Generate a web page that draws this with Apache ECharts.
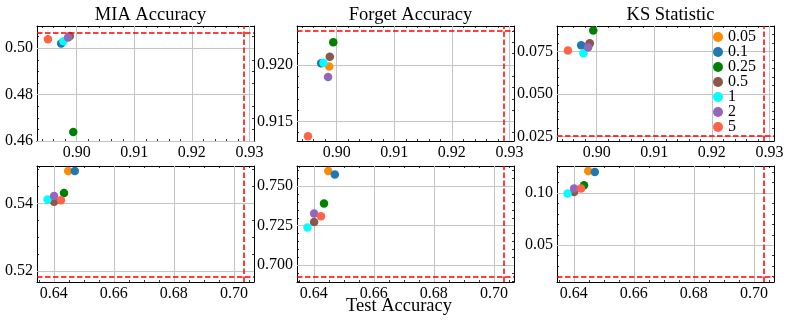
<!DOCTYPE html>
<html>
<head>
<meta charset="utf-8">
<script src="https://cdn.jsdelivr.net/npm/echarts@6/dist/echarts.min.js"></script>
<style>
html, body { margin: 0; background: #fff; }
#chart { width: 789px; height: 320px; }
</style>
</head>
<body>
<div id="chart"></div>
<script>
const sigmas = ['0.05', '0.1', '0.25', '0.5', '1', '2', '5'];
const colors = ['#ff8c00', '#1f77b4', '#008000', '#8c564b', '#00ffff', '#9467bd', '#ff6347'];

// top row
const topTestAcc = [0.8987, 0.8973, 0.8994, 0.8988, 0.8977, 0.8985, 0.8950];
const topMIA = [0.5050, 0.5021, 0.4639, 0.5053, 0.5030, 0.5046, 0.5039];
const topForget = [0.91985, 0.92015, 0.9220, 0.92073, 0.9202, 0.91892, 0.91368];
const topKS = [0.0795, 0.0788, 0.0874, 0.0799, 0.0741, 0.0774, 0.0756];

// bottom row
const bottomTestAcc = [0.6448, 0.6470, 0.6434, 0.6401, 0.6379, 0.6401, 0.6424];
const bottomMIA = [0.5496, 0.5496, 0.5431, 0.5405, 0.5412, 0.5422, 0.5410];
const bottomForget = [0.7597, 0.7574, 0.7391, 0.7274, 0.7239, 0.7327, 0.7310];
const bottomKS = [0.1210, 0.1201, 0.1074, 0.1010, 0.0994, 0.1042, 0.1042];

// reference (red dashed) lines
const topRefX = 0.9291;
const bottomRefX = 0.7034;
const refY = [0.5067, 0.9230, 0.0252, 0.5183, 0.6926, 0.0197];

// tick labels
const titles = ['MIA Accuracy', 'Forget Accuracy', 'KS Statistic'];
const topXTicks = [0.90, 0.91, 0.92, 0.93];
const bottomXTicks = [0.64, 0.66, 0.68, 0.70];
const yTicks = [
    [0.46, 0.48, 0.50],
    [0.915, 0.920],
    [0.025, 0.050, 0.075],
    [0.52, 0.54],
    [0.700, 0.725, 0.750],
    [0.05, 0.10]
];

const panels = [
    { x: topTestAcc, y: topMIA, xr: [0.8931, 0.9308], yr: [0.46, 0.5096], xt: topXTicks, xs: 0.002, xd: 2, ys: 0.005, yd: 2, rx: topRefX },
    { x: topTestAcc, y: topForget, xr: [0.8931, 0.9308], yr: [0.91327, 0.92344], xt: topXTicks, xs: 0.002, xd: 2, ys: 0.001, yd: 3, rx: topRefX },
    { x: topTestAcc, y: topKS, xr: [0.8931, 0.9308], yr: [0.0223, 0.0901], xt: topXTicks, xs: 0.002, xd: 2, ys: 0.005, yd: 3, rx: topRefX },
    { x: bottomTestAcc, y: bottomMIA, xr: [0.6344, 0.7067], yr: [0.5168, 0.5511], xt: bottomXTicks, xs: 0.005, xd: 2, ys: 0.005, yd: 2, rx: bottomRefX },
    { x: bottomTestAcc, y: bottomForget, xr: [0.6344, 0.7067], yr: [0.6894, 0.7628], xt: bottomXTicks, xs: 0.005, xd: 2, ys: 0.005, yd: 3, rx: bottomRefX },
    { x: bottomTestAcc, y: bottomKS, xr: [0.6344, 0.7067], yr: [0.0149, 0.1258], xt: bottomXTicks, xs: 0.005, xd: 2, ys: 0.01, yd: 2, rx: bottomRefX }
];

const FONT = 'Liberation Serif';
const gridLeft = [37, 297, 557];
const gridTop = [26, 166];

function steps(lo, hi, step) {
    const out = [];
    for (let k = Math.ceil(lo / step - 1e-6); k * step <= hi + 1e-9; k++) {
        out.push(+(k * step).toFixed(6));
    }
    return out;
}

const grids = [];
const xAxes = [];
const yAxes = [];
const series = [];
const titleList = [];

panels.forEach((p, i) => {
    const row = Math.floor(i / 3);
    const col = i % 3;
    const gh = row === 0 ? 115 : 116;
    grids.push({ left: gridLeft[col], top: gridTop[row], width: 217, height: gh, containLabel: false });
    if (row === 0) {
        titleList.push({
            text: titles[col], left: gridLeft[col] + 108.5, top: 1, textAlign: 'center',
            textStyle: { fontFamily: FONT, fontSize: 18.5, fontWeight: 'normal', color: '#000' }
        });
    }

    const xMinor = steps(p.xr[0], p.xr[1], p.xs);
    const yMinor = steps(p.yr[0], p.yr[1], p.ys);

    ['bottom', 'top', 'bottom', 'top'].forEach((pos, k) => {
        const major = k < 2;
        xAxes.push({
            type: 'value', gridIndex: i, position: pos, min: p.xr[0], max: p.xr[1],
            axisLine: { show: major, onZero: false, lineStyle: { color: '#000', width: 1 } },
            axisTick: { show: true, inside: true, length: major ? 4 : 2, customValues: major ? p.xt : xMinor,
                lineStyle: { color: '#000', width: 0.8 } },
            axisLabel: { show: k === 0, customValues: p.xt, margin: 4,
                formatter: v => v.toFixed(p.xd),
                fontFamily: FONT, fontSize: 16, color: '#000' },
            splitLine: { show: false },
            minorTick: { show: false }
        });
    });
    ['left', 'right', 'left', 'right'].forEach((pos, k) => {
        const major = k < 2;
        yAxes.push({
            type: 'value', gridIndex: i, position: pos, min: p.yr[0], max: p.yr[1],
            axisLine: { show: major, onZero: false, lineStyle: { color: '#000', width: 1 } },
            axisTick: { show: true, inside: true, length: major ? 4 : 2, customValues: major ? yTicks[i] : yMinor,
                lineStyle: { color: '#000', width: 0.8 } },
            axisLabel: { show: k === 0, customValues: yTicks[i], margin: 4,
                formatter: v => v.toFixed(p.yd),
                fontFamily: FONT, fontSize: 16, color: '#000' },
            splitLine: { show: false },
            minorTick: { show: false }
        });
    });

    // grid lines at major ticks
    xAxes.push({
        type: 'value', gridIndex: i, position: 'bottom', min: p.xr[0], max: p.xr[1],
        axisLine: { show: false, onZero: false }, axisLabel: { show: false },
        axisTick: { show: true, inside: true, length: gh, customValues: p.xt,
            lineStyle: { color: '#c4c4c4', width: 1 } },
        splitLine: { show: false }
    });
    yAxes.push({
        type: 'value', gridIndex: i, position: 'left', min: p.yr[0], max: p.yr[1],
        axisLine: { show: false, onZero: false }, axisLabel: { show: false },
        axisTick: { show: true, inside: true, length: 217, customValues: yTicks[i],
            lineStyle: { color: '#c4c4c4', width: 1 } },
        splitLine: { show: false }
    });

    const base = xAxes.length - 5;
    const ybase = yAxes.length - 5;
    sigmas.forEach((s, j) => {
        const ser = {
            type: 'scatter', name: s, xAxisIndex: base, yAxisIndex: ybase,
            data: [[p.x[j], p.y[j]]],
            symbolSize: 8.5,
            itemStyle: { color: colors[j], opacity: 1 },
            z: 3
        };
        if (j === sigmas.length - 1) {
            ser.markLine = {
                silent: true, symbol: 'none', animation: false, precision: 5,
                label: { show: false },
                lineStyle: { color: '#ff0000', type: [5.5, 2.5], width: 1.5 },
                data: [{ xAxis: p.rx }, { yAxis: refY[i] }]
            };
        }
        series.push(ser);
    });
});

titleList.push({
    text: 'Test Accuracy', left: 394, top: 292, textAlign: 'center',
    textStyle: { fontFamily: FONT, fontSize: 18.5, fontWeight: 'normal', color: '#000' }
});

const chart = echarts.init(document.getElementById('chart'), null, { renderer: 'canvas' });
chart.setOption({
    animation: false,
    backgroundColor: '#fff',
    title: titleList,
    legend: {
        data: sigmas, orient: 'vertical', left: 708, top: 24,
        icon: 'circle', itemWidth: 10, itemHeight: 10, itemGap: -1,
        textStyle: { fontFamily: FONT, fontSize: 16, color: '#000' }
    },
    grid: grids,
    xAxis: xAxes,
    yAxis: yAxes,
    series: series
});
</script>
</body>
</html>
